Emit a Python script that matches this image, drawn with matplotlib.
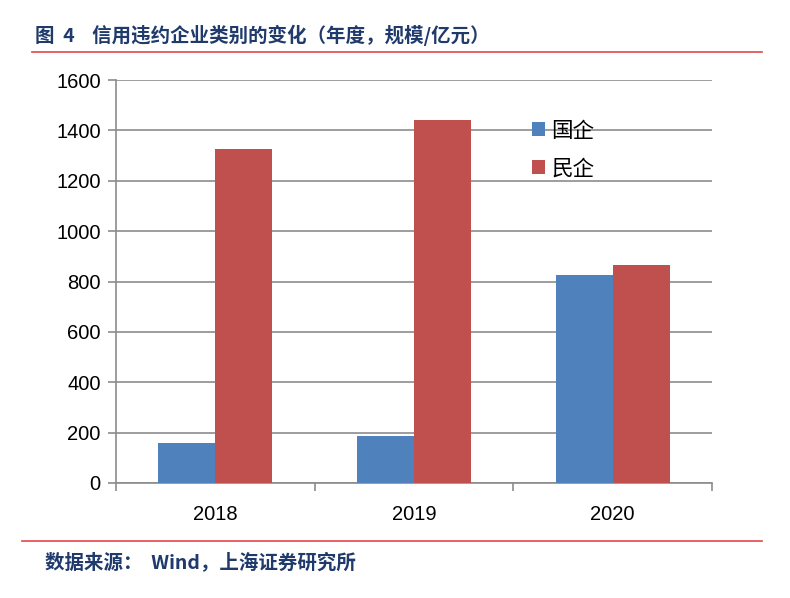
import matplotlib.pyplot as plt
import numpy as np
from matplotlib.lines import Line2D

plt.rcParams['font.family'] = ['Noto Sans CJK SC', 'DejaVu Sans']

# 数据
years = ['2018', '2019', '2020']
guoqi = [158, 188, 825]
minqi = [1328, 1443, 866]
y_ticks = [0, 200, 400, 600, 800, 1000, 1200, 1400, 1600]

c_blue = '#4F81BD'
c_red = '#C0504D'
c_navy = '#1F3A6B'
c_grid = '#8C8C8C'

fig = plt.figure(figsize=(7.9, 5.98), dpi=100)
ax = fig.add_axes([116 / 790, 1 - 483 / 598, (712 - 116) / 790, (483 - 80) / 598])

x = np.arange(len(years))
w = 0.287
ax.bar(x - w / 2, guoqi, w, color=c_blue, label='国企', zorder=3)
ax.bar(x + w / 2, minqi, w, color=c_red, label='民企', zorder=3)

ax.set_xlim(-0.5, 2.5)
ax.set_ylim(0, 1600)
ax.set_yticks(y_ticks)
ax.set_yticklabels([str(v) for v in y_ticks], fontsize=14.5, family='Liberation Sans')
ax.yaxis.grid(True, color=c_grid, linewidth=1.2, zorder=0)
ax.set_xticks(x)
ax.set_xticklabels(years, fontsize=14.5, family='Liberation Sans')
ax.set_xticks([-0.5, 0.5, 1.5, 2.5], minor=True)
ax.tick_params(axis='x', which='major', length=0, pad=16)
ax.tick_params(axis='x', which='minor', length=6, color=c_grid, width=1.2, direction='out')
ax.tick_params(axis='y', length=6, color=c_grid, width=1.2, direction='out', pad=5)

for s in ['top', 'right']:
    ax.spines[s].set_visible(False)
for s in ['left', 'bottom']:
    ax.spines[s].set_color(c_grid)
    ax.spines[s].set_linewidth(1.2)

leg = ax.legend(loc='upper left', bbox_to_anchor=(0.665, 0.95), frameon=False,
                fontsize=15.5, handlelength=0.6, handleheight=0.6, handletextpad=0.3,
                labelspacing=0.75)

# 标题与注释
fig.text(35 / 790, 1 - 35 / 598, '图  4    信用违约企业类别的变化（年度，规模/亿元）',
         fontsize=14, fontweight='bold', color=c_navy, va='center')
fig.add_artist(Line2D([32 / 790, 762 / 790], [1 - 52 / 598, 1 - 52 / 598],
                      color='#E0474C', linewidth=1.2))
fig.add_artist(Line2D([22 / 790, 762 / 790], [1 - 541 / 598, 1 - 541 / 598],
                      color='#E0474C', linewidth=1.2))
fig.text(45 / 790, 1 - 563 / 598, '数据来源：  Wind，上海证券研究所',
         fontsize=14, fontweight='bold', style='italic', color=c_navy, va='center')

fig.savefig('out.png', dpi=100)
